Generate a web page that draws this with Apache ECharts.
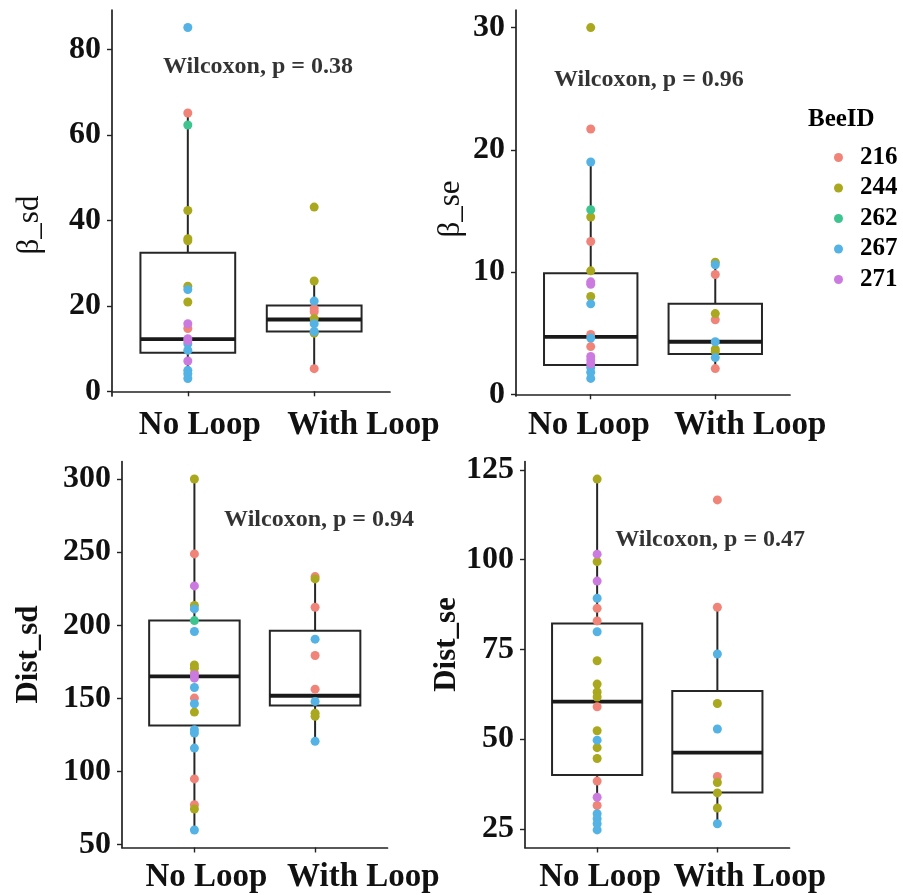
<!DOCTYPE html>
<html><head><meta charset="utf-8">
<script src="https://cdn.jsdelivr.net/npm/echarts@6/dist/echarts.min.js"></script>
<style>html,body{margin:0;padding:0;background:#fff}#c{width:903px;height:895px}</style>
</head><body><div id="c"></div>
<script>
// ---- categories & legend ----
const groups = ['No Loop', 'With Loop'];
const beeIds = ['216', '244', '262', '267', '271'];
const beeColors = ['#F08479', '#A9A81E', '#3EC58F', '#54B3E4', '#CB7BDF'];

// ---- panel 1: β_sd ----
const betaSdNoLoop    = [85.1, 65.1, 62.3, 42.3, 35.7, 35.2, 24.6, 23.8, 20.9, 15.8, 14.7, 12.3, 11.8, 11.1, 9.6, 7.1, 4.9, 4.1, 3.0];
const betaSdNoLoopBee = [267, 216, 262, 244, 244, 244, 244, 267, 244, 271, 216, 271, 271, 267, 267, 271, 267, 267, 267];
const betaSdLoop      = [43.1, 25.8, 21.1, 19.3, 18.6, 17.0, 15.8, 14.0, 13.6, 5.3];
const betaSdLoopBee   = [244, 244, 267, 216, 216, 244, 267, 267, 244, 216];
const betaSdBox       = [[3.0, 9.0, 12.2, 32.4, 65.1], [5.3, 14.0, 16.8, 20.1, 25.8]];
const betaSdTicks     = [0, 20, 40, 60, 80];
const betaSdP         = 'Wilcoxon, p = 0.38';

// ---- panel 2: β_se ----
const betaSeNoLoop    = [30.0, 21.7, 19.0, 15.1, 14.5, 12.5, 10.1, 9.2, 9.0, 8.0, 7.4, 4.9, 4.6, 3.9, 3.1, 2.8, 2.5, 2.2, 1.8, 1.3];
const betaSeNoLoopBee = [244, 216, 267, 262, 244, 216, 244, 271, 271, 244, 267, 216, 267, 216, 271, 271, 271, 267, 267, 267];
const betaSeLoop      = [10.8, 10.6, 9.8, 6.6, 6.1, 4.3, 3.7, 3.5, 3.0, 2.1];
const betaSeLoopBee   = [244, 267, 216, 244, 216, 267, 244, 244, 267, 216];
const betaSeBox       = [[1.3, 2.4, 4.7, 9.9, 19.0], [2.1, 3.3, 4.3, 7.4, 10.8]];
const betaSeTicks     = [0, 10, 20, 30];
const betaSeP         = 'Wilcoxon, p = 0.96';

// ---- panel 3: Dist_sd ----
const distSdNoLoop    = [300, 248.8, 226.9, 213.5, 211.2, 203.2, 195.7, 172.9, 170.6, 167.3, 166.1, 163.8, 157.4, 150.2, 146.3, 140.6, 128.6, 126.3, 116.0, 94.9, 77.3, 74.3, 60.0];
const distSdNoLoopBee = [244, 216, 271, 244, 267, 262, 267, 244, 244, 216, 271, 271, 267, 216, 267, 244, 267, 267, 267, 216, 216, 244, 267];
const distSdLoop      = [233.3, 231.7, 212.3, 190.5, 179.3, 156.3, 147.9, 139.9, 137.7, 120.6];
const distSdLoopBee   = [216, 244, 216, 267, 216, 216, 267, 244, 244, 267];
const distSdBox       = [[60, 131.5, 165.0, 203.2, 300], [120.6, 145.2, 151.8, 196.2, 233.3]];
const distSdTicks     = [50, 100, 150, 200, 250, 300];
const distSdP         = 'Wilcoxon, p = 0.94';

// ---- panel 4: Dist_se ----
const distSeNoLoop    = [122.4, 101.5, 99.4, 94.0, 89.2, 86.4, 82.9, 79.9, 71.8, 65.3, 63.1, 61.7, 59.0, 52.3, 49.7, 47.6, 44.6, 38.3, 33.8, 31.5, 29.2, 27.8, 26.4, 24.7];
const distSeNoLoopBee = [244, 271, 244, 271, 267, 216, 216, 267, 244, 244, 244, 244, 216, 244, 267, 244, 244, 216, 271, 216, 267, 267, 267, 267];
const distSeLoop      = [116.6, 86.7, 73.7, 59.9, 52.8, 39.6, 37.9, 35.0, 30.8, 26.4];
const distSeLoopBee   = [216, 216, 267, 244, 267, 216, 244, 244, 244, 267];
const distSeBox       = [[24.7, 40.0, 60.4, 82.2, 122.4], [26.4, 35.1, 46.2, 63.4, 86.7]];
const distSeTicks     = [25, 50, 75, 100, 125];
const distSeP         = 'Wilcoxon, p = 0.47';

// ---- assemble panels (layout kept separate from data) ----
const panels = [
  {title: 'β_sd', bold: false, nl: betaSdNoLoop, nlBee: betaSdNoLoopBee, wl: betaSdLoop, wlBee: betaSdLoopBee, box: betaSdBox, ticks: betaSdTicks, p: betaSdP,
   min: -1.1, max: 89.2, grid: {left: 112, top: 10, width: 278, height: 386}, ann: [1.555, 76], nameGap: 67, namePad: [0, 44, 0, 0], labelPos: [1.095, 2.39]},
  {title: 'β_se', bold: false, nl: betaSeNoLoop, nlBee: betaSeNoLoopBee, wl: betaSeLoop, wlBee: betaSeLoopBee, box: betaSeBox, ticks: betaSeTicks, p: betaSeP,
   min: -0.14, max: 31.44, grid: {left: 516, top: 10, width: 274, height: 386}, ann: [1.467, 25.7], nameGap: 50, namePad: [0, 12, 0, 0], labelPos: [0.985, 2.28]},
  {title: 'Dist_sd', bold: true, nl: distSdNoLoop, nlBee: distSdNoLoopBee, wl: distSdLoop, wlBee: distSdLoopBee, box: distSdBox, ticks: distSdTicks, p: distSdP,
   min: 48, max: 312, grid: {left: 122, top: 461.5, width: 265.5, height: 386}, ann: [2.033, 272], nameGap: 78, namePad: [0, 0, 0, 0], labelPos: [1.1, 2.4]},
  {title: 'Dist_se', bold: true, nl: distSeNoLoop, nlBee: distSeNoLoopBee, wl: distSeLoop, wlBee: distSeLoopBee, box: distSeBox, ticks: distSeTicks, p: distSeP,
   min: 19.8, max: 127.3, grid: {left: 525, top: 461.5, width: 264.5, height: 386}, ann: [1.94, 105.5], nameGap: 48, namePad: [0, 0, 0, 20], labelPos: [1.025, 2.27]}
];

const FONT = '"Liberation Serif", "Times New Roman", serif';
const AXIS_COLOR = '#222';

function renderBox(params, api) {
  const x = api.value(0);
  const hw = 0.375;
  const lo = api.coord([x - hw, api.value(2)]);
  const hi = api.coord([x + hw, api.value(4)]);
  const pMin = api.coord([x, api.value(1)]);
  const pMax = api.coord([x, api.value(5)]);
  const mL = api.coord([x - hw, api.value(3)]);
  const mR = api.coord([x + hw, api.value(3)]);
  const ln = {stroke: '#262626', lineWidth: 2};
  return {type: 'group', children: [
    {type: 'line', shape: {x1: pMax[0], y1: pMax[1], x2: pMax[0], y2: hi[1]}, style: ln},
    {type: 'line', shape: {x1: pMin[0], y1: pMin[1], x2: pMin[0], y2: lo[1]}, style: ln},
    {type: 'rect', shape: {x: lo[0], y: hi[1], width: hi[0] - lo[0], height: lo[1] - hi[1]}, style: {stroke: '#262626', lineWidth: 2, fill: '#fff'}},
    {type: 'line', shape: {x1: mL[0], y1: mL[1], x2: mR[0], y2: mR[1]}, style: {stroke: '#1a1a1a', lineWidth: 3.8}}
  ]};
}

const grid = [], xAxis = [], yAxis = [], series = [];
panels.forEach((p, i) => {
  grid.push(p.grid);
  xAxis.push({
    type: 'value', gridIndex: i, min: 0.4, max: 2.6,
    splitLine: {show: false},
    axisLine: {show: true, lineStyle: {color: AXIS_COLOR, width: 1.7}},
    axisTick: {show: true, customValues: [1, 2], length: 5, lineStyle: {color: AXIS_COLOR, width: 1.4}},
    axisLabel: {customValues: p.labelPos, hideOverlap: false,
      formatter: v => (v < 1.7 ? groups[0] : groups[1]), margin: 13,
      fontFamily: FONT, fontWeight: 'bold', fontSize: 33, color: '#111'}
  });
  yAxis.push({
    type: 'value', gridIndex: i, min: p.min, max: p.max,
    name: p.title, nameLocation: 'middle', nameGap: p.nameGap, nameRotate: 90,
    nameTextStyle: {fontFamily: FONT, fontWeight: p.bold ? 'bold' : 'normal', fontSize: 31, color: '#111', padding: p.namePad},
    splitLine: {show: false},
    axisLine: {show: true, lineStyle: {color: AXIS_COLOR, width: 1.7}},
    axisTick: {show: true, customValues: p.ticks, length: 5, lineStyle: {color: AXIS_COLOR, width: 1.4}},
    axisLabel: {customValues: p.ticks, hideOverlap: false, margin: 11, fontFamily: FONT, fontWeight: 'bold', fontSize: 32, color: '#111'}
  });
  series.push({
    type: 'custom', name: 'box' + i, xAxisIndex: i, yAxisIndex: i, z: 1, silent: true,
    renderItem: renderBox, clip: false,
    encode: {x: 0, y: [1, 2, 3, 4, 5]},
    data: p.box.map((b, g) => [g + 1].concat(b))
  });
  beeIds.forEach((bee, k) => {
    const pts = [];
    p.nl.forEach((v, j) => { if (String(p.nlBee[j]) === bee) pts.push([1, v]); });
    p.wl.forEach((v, j) => { if (String(p.wlBee[j]) === bee) pts.push([2, v]); });
    series.push({
      type: 'scatter', name: bee, xAxisIndex: i, yAxisIndex: i, z: 3,
      symbol: 'circle', symbolSize: 9, itemStyle: {color: beeColors[k], opacity: 1},
      data: pts
    });
  });
  series.push({
    type: 'scatter', name: 'ann' + i, xAxisIndex: i, yAxisIndex: i, z: 4, silent: true,
    symbolSize: 1, itemStyle: {color: 'rgba(0,0,0,0)'},
    label: {show: true, position: 'inside', formatter: p.p, fontFamily: FONT, fontWeight: 'bold', fontSize: 24, color: '#000'},
    data: [p.ann]
  });
});

const chart = echarts.init(document.getElementById('c'), null, {renderer: 'canvas'});
chart.setOption({
  backgroundColor: '#fff',
  animation: false,
  grid, xAxis, yAxis, series,
  legend: {
    data: beeIds, orient: 'vertical', left: 829, top: 140,
    icon: 'circle', itemWidth: 9, itemHeight: 9, itemGap: 5.5,
    selectedMode: false,
    textStyle: {fontFamily: FONT, fontWeight: 'bold', fontSize: 25, color: '#000', padding: [0, 0, 0, 12]}
  },
  graphic: [{
    type: 'text', left: 808, top: 107,
    style: {text: 'BeeID', fontFamily: FONT, fontWeight: 'bold', fontSize: 25, fill: '#000'}
  }]
});
</script></body></html>
